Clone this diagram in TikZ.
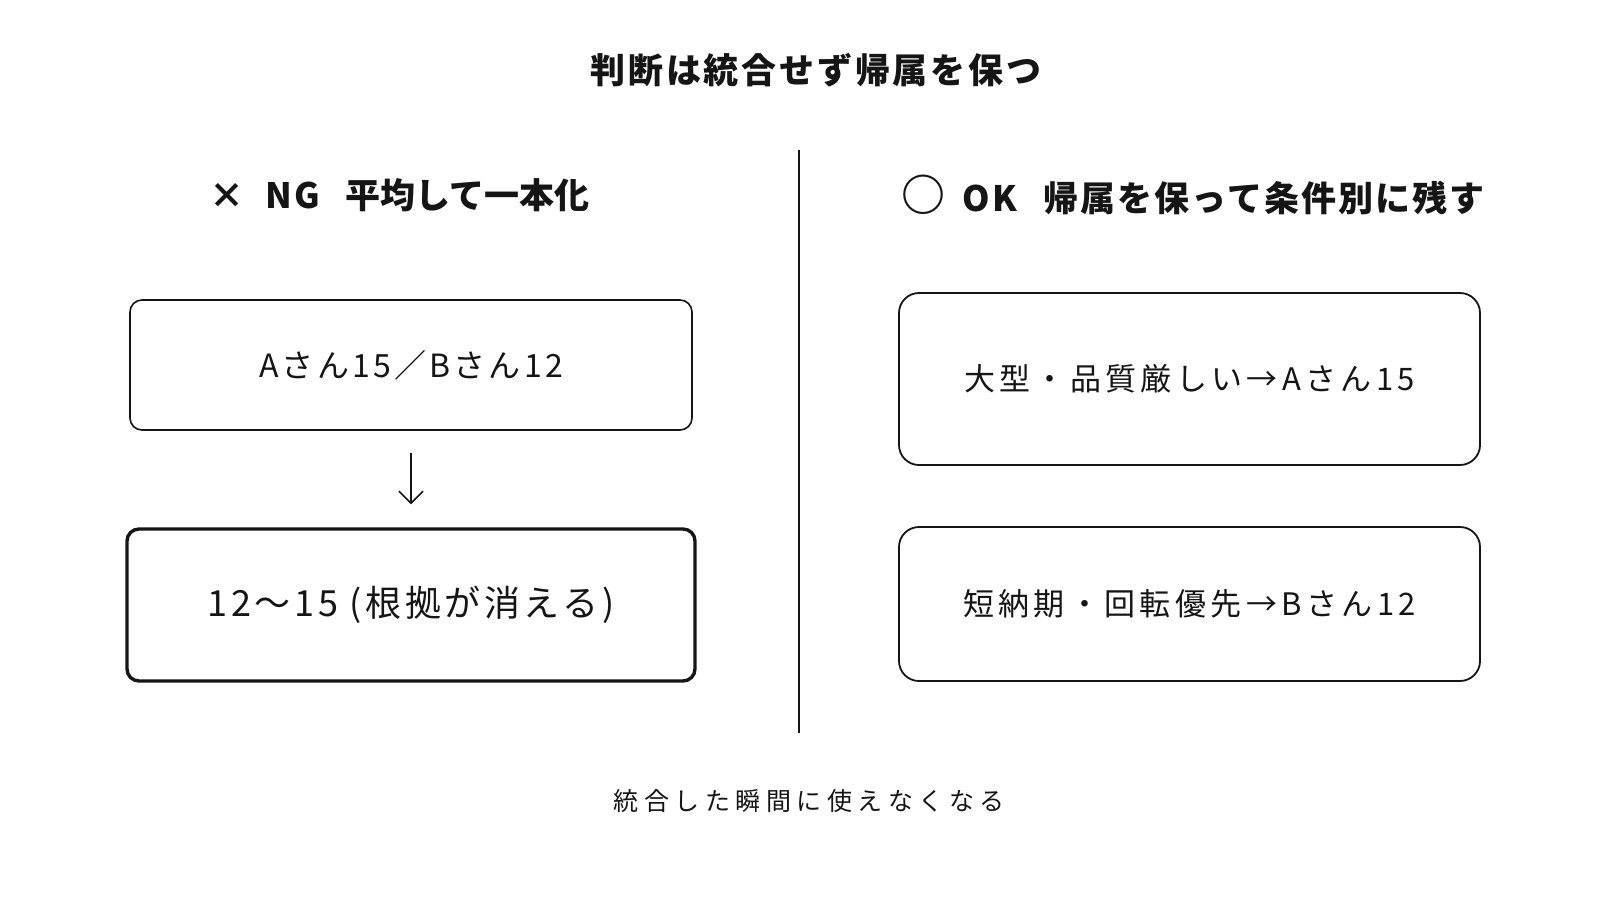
\documentclass[tikz,border=0pt]{standalone}
\usepackage{fontspec}
\usepackage{xcolor}
\usetikzlibrary{arrows.meta}
\setmainfont{Noto Sans CJK JP}
\newfontfamily\spacedfont{Noto Sans CJK JP}[LetterSpace=10]
\newfontfamily\titlefont{Noto Sans CJK JP}[LetterSpace=8]
\newfontfamily\headfont{Noto Sans CJK JP}[LetterSpace=6]
\newfontfamily\okfont{Noto Sans CJK JP}[LetterSpace=14]
\newfontfamily\widefont{Noto Sans CJK JP}[LetterSpace=22]
\definecolor{inkcolor}{HTML}{151515}
\colorlet{linecolor}{inkcolor}
\tikzstyle{titletext} = [
    font=\titlefont\bfseries\fontsize{35}{40}\selectfont,
    text=inkcolor,
    inner sep=0pt
    ]
\tikzstyle{headtext} = [
    font=\bfseries\fontsize{35}{40}\selectfont,
    text=inkcolor,
    anchor=west,
    inner sep=0pt
    ]
\tikzstyle{ngbox} = [
    draw=linecolor,
    line width=1.6pt,
    rounded corners=12pt,
    rectangle,
    inner sep=0pt,
    text=inkcolor,
    font=\spacedfont\fontsize{32}{38}\selectfont
    ]
\tikzstyle{okbox} = [
    draw=linecolor,
    line width=1.8pt,
    rounded corners=20pt,
    rectangle,
    inner sep=0pt,
    text=inkcolor,
    font=\okfont\fontsize{31}{38}\selectfont
    ]

\begin{document}
\begin{tikzpicture}[x=1pt, y=-1pt]
\useasboundingbox (0,0) rectangle (1600,900);

\node[titletext] (title) at (816,70) {判断は統合せず帰属を保つ};

% left side
\node[headtext] (nghead) at (209,195)
    {×\hspace{0.6em}N\hspace{0.06em}G\hspace{0.75em}平均して一本化};
\node[ngbox, minimum width=562pt, minimum height=130pt] (scores) at (411,365)
    {Aさん15／Bさん12};
\node[ngbox, line width=3.4pt, minimum width=568pt, minimum height=152pt,
      font=\spacedfont\fontsize{36}{40}\selectfont] (merged) at (411,605)
    {12〜15 (根拠が消える)};
\draw[linecolor, line width=1.6pt, -{Straight Barb[length=12pt, width=24pt]},
      shorten <=22pt, shorten >=23pt] (scores) -- (merged);

% divider
\coordinate (divtop) at (799,150);
\coordinate (divbot) at (799,733);
\draw[linecolor, line width=2.2pt] (divtop) -- (divbot);

% right side
\node[headtext] (okhead) at (901,195)
    {{\fontsize{44}{44}\selectfont ○}\hspace{0.5em}O\hspace{0.06em}K\hspace{0.75em}{\headfont\bfseries 帰属を保って条件別に残す}};
\node[okbox, minimum width=581pt, minimum height=172pt] (bigjob) at (1189.5,379)
    {大型・品質厳しい→Aさん15};
\node[okbox, minimum width=581pt, minimum height=154pt] (fastjob) at (1189.5,604)
    {短納期・回転優先\hspace{0.15em}→\hspace{0.15em}Bさん12};

\node[text=inkcolor, inner sep=0pt, font=\widefont\fontsize{25}{30}\selectfont]
    (footer) at (809,801) {統合した瞬間に使えなくなる};
\end{tikzpicture}
\end{document}
